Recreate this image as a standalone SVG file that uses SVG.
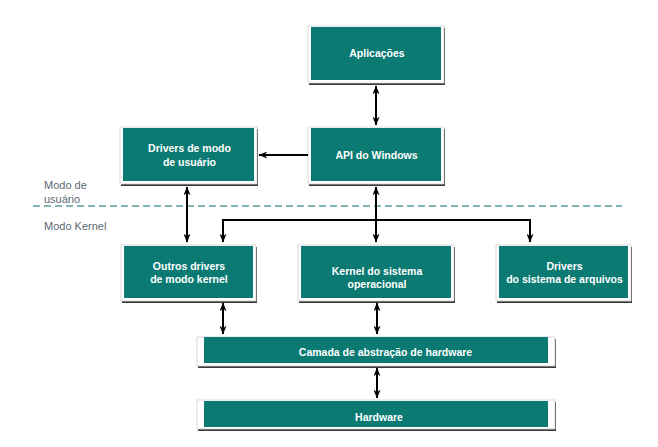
<svg xmlns="http://www.w3.org/2000/svg" width="658" height="447" viewBox="0 0 658 447">
<defs>
<marker id="ah" viewBox="0 0 10 8" refX="9.5" refY="4" markerWidth="10" markerHeight="7" markerUnits="userSpaceOnUse" orient="auto-start-reverse">
<path d="M0,0 L10,4 L0,8 L3,4 Z" fill="#000"/>
</marker>
</defs>
<style>
.sh{fill:#3a3a3a}
.fr{fill:#fff;stroke:#d0d0d0;stroke-width:0.8}
.tl{fill:#0b7a73}
.t{font-family:"Liberation Sans",Arial,sans-serif;font-size:10.5px;font-weight:bold;fill:#fff;text-anchor:middle}
.lb{font-family:"Liberation Sans",Arial,sans-serif;font-size:11px;fill:#5c6870}
.c{stroke:#000;stroke-width:2;fill:none}
.dash{stroke:#5b9ea0;stroke-width:1.5;stroke-dasharray:7,4;fill:none}
</style>
<rect width="658" height="447" fill="#fff"/>
<line class="dash" x1="33" y1="206" x2="622" y2="206"/>
<text class="lb" x="44" y="189">Modo de</text>
<text class="lb" x="44" y="203">usuário</text>
<text class="lb" x="44" y="230">Modo Kernel</text>
<g id="aplicacoes">
<rect class="sh" x="309" y="28" width="136" height="57"/>
<rect class="fr" x="308" y="26" width="136" height="57"/>
<rect class="tl" x="311" y="27" width="130" height="53"/>
<text class="t" x="377" y="57">Aplicações</text>
</g>
<g id="api">
<rect class="sh" x="309" y="129" width="136" height="57"/>
<rect class="fr" x="308" y="127" width="136" height="57"/>
<rect class="tl" x="311" y="128" width="130" height="53"/>
<text class="t" x="376.5" y="159">API do Windows</text>
</g>
<g id="drivers-usuario">
<rect class="sh" x="121" y="129" width="137" height="57"/>
<rect class="fr" x="120" y="127" width="137" height="57"/>
<rect class="tl" x="123" y="128" width="131" height="53"/>
<text class="t" x="189.5" y="151.5">Drivers de modo</text>
<text class="t" x="189.5" y="166">de usuário</text>
</g>
<g id="outros-drivers">
<rect class="sh" x="122" y="247" width="135" height="56"/>
<rect class="fr" x="121" y="245" width="135" height="56"/>
<rect class="tl" x="124" y="246" width="129" height="52"/>
<text class="t" x="189" y="269.5">Outros drivers</text>
<text class="t" x="189" y="283">de modo kernel</text>
</g>
<g id="kernel">
<rect class="sh" x="299" y="247" width="156" height="56"/>
<rect class="fr" x="298" y="245" width="156" height="56"/>
<rect class="tl" x="301" y="246" width="150" height="52"/>
<text class="t" x="377" y="274.5">Kernel do sistema</text>
<text class="t" x="377" y="288">operacional</text>
</g>
<g id="drivers-arquivos">
<rect class="sh" x="497" y="247" width="135" height="56"/>
<rect class="fr" x="496" y="245" width="135" height="56"/>
<rect class="tl" x="499" y="246" width="129" height="52"/>
<text class="t" x="564.5" y="269.5">Drivers</text>
<text class="t" x="564.5" y="283">do sistema de arquivos</text>
</g>
<g id="camada">
<rect class="sh" x="198" y="339" width="358" height="29"/>
<rect class="fr" x="197" y="337" width="358" height="29"/>
<rect class="tl" x="204" y="337" width="344" height="26"/>
<text class="t" x="385.5" y="355.5">Camada de abstração de hardware</text>
</g>
<g id="hardware">
<rect class="sh" x="198" y="402" width="358" height="29"/>
<rect class="fr" x="197" y="400" width="358" height="29"/>
<rect class="tl" x="204" y="401" width="344" height="26"/>
<text class="t" x="379" y="420.5">Hardware</text>
</g>
<g id="connectors">
<line class="c" x1="376" y1="86" x2="376" y2="125" marker-start="url(#ah)" marker-end="url(#ah)"/>
<line class="c" x1="308" y1="155" x2="259" y2="155" marker-end="url(#ah)"/>
<line class="c" x1="187" y1="187" x2="187" y2="242" marker-start="url(#ah)" marker-end="url(#ah)"/>
<line class="c" x1="376" y1="187" x2="376" y2="242" marker-start="url(#ah)" marker-end="url(#ah)"/>
<path class="c" d="M376,220 H223 V242" marker-end="url(#ah)"/>
<path class="c" d="M376,220 H530 V242" marker-end="url(#ah)"/>
<line class="c" x1="223" y1="303" x2="223" y2="334" marker-start="url(#ah)" marker-end="url(#ah)"/>
<line class="c" x1="377" y1="303" x2="377" y2="334" marker-start="url(#ah)" marker-end="url(#ah)"/>
<line class="c" x1="377" y1="368" x2="377" y2="398" marker-start="url(#ah)" marker-end="url(#ah)"/>
</g>
</svg>
